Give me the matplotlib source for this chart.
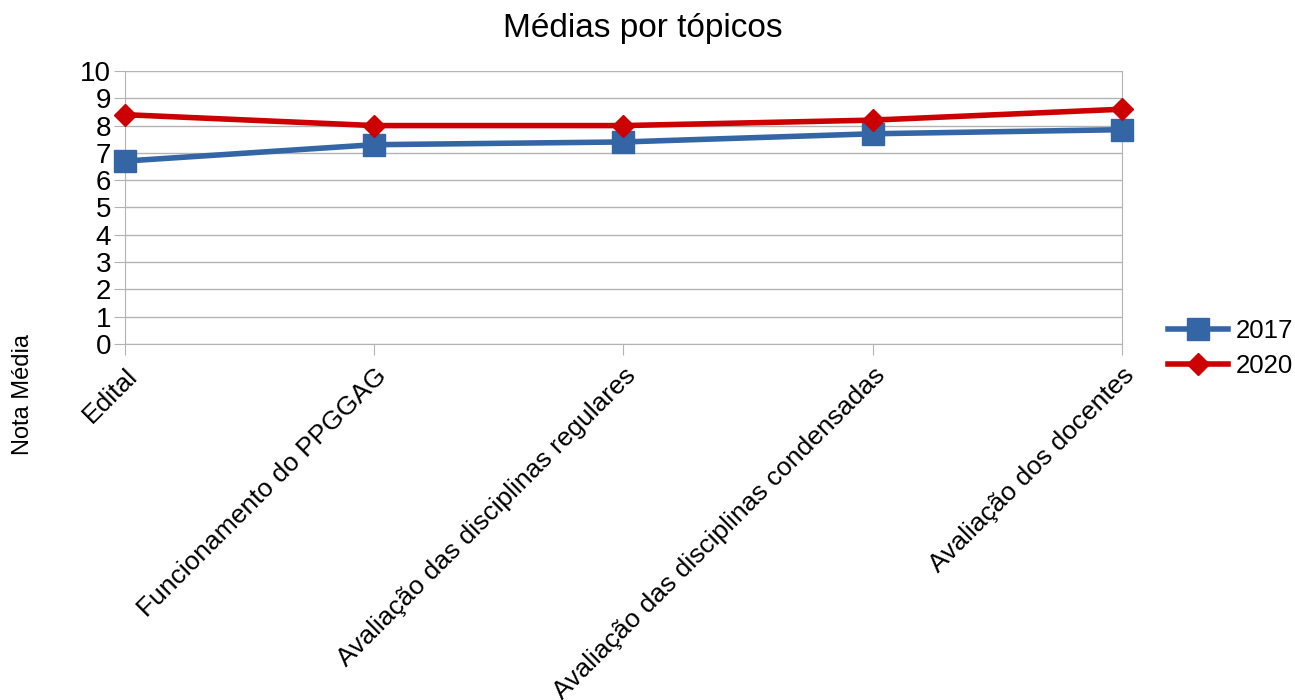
import matplotlib.pyplot as plt

plt.rcParams['font.family'] = ['Liberation Sans', 'DejaVu Sans']

topicos = ["Edital", "Funcionamento do PPGGAG", "Avaliação das disciplinas regulares",
           "Avaliação das disciplinas condensadas", "Avaliação dos docentes"]
notas_2017 = [6.7, 7.3, 7.4, 7.7, 7.85]
notas_2020 = [8.4, 8.0, 8.0, 8.2, 8.6]

fig = plt.figure(figsize=(12.95, 7), dpi=100)
ax = fig.add_axes([0.0965, 0.5086, 0.7699, 0.39])

x = range(len(topicos))
ax.plot(x, notas_2017, color='#3465a4', linewidth=4, marker='s', markersize=15.5,
        label='2017', zorder=3, clip_on=False)
ax.plot(x, notas_2020, color='#cc0000', linewidth=4, marker='D', markersize=11.5,
        label='2020', zorder=4, clip_on=False)

ax.set_xlim(0, len(topicos) - 1)
ax.set_ylim(0, 10)
ax.set_yticks(range(11))
ax.set_xticks(list(x))
ax.set_xticklabels(topicos, rotation=45, ha='right', va='top', rotation_mode='anchor', fontsize=19)
ax.tick_params(axis='y', labelsize=20, length=8, color='#b3b3b3', pad=2)
ax.tick_params(axis='x', length=8, color='#b3b3b3', pad=6)
ax.grid(True, axis='y', color='#b3b3b3', linewidth=1)
ax.set_axisbelow(True)
for s in ax.spines.values():
    s.set_color('#b3b3b3')
ax.spines['top'].set_visible(False)

fig.text(0.496, 0.96, "Médias por tópicos", ha='center', va='center', fontsize=24)
fig.text(0.0174, 0.436, "Nota Média", rotation=90, ha='center', va='center', fontsize=17)

ax.legend(loc='upper left', bbox_to_anchor=(1168 / 1295, 1 - 319 / 700),
          bbox_transform=fig.transFigure, frameon=False, fontsize=18.5,
          borderpad=0, borderaxespad=0, handlelength=2.35, labelspacing=0.42,
          handletextpad=0.3)

fig.savefig('out.png', dpi=100)
